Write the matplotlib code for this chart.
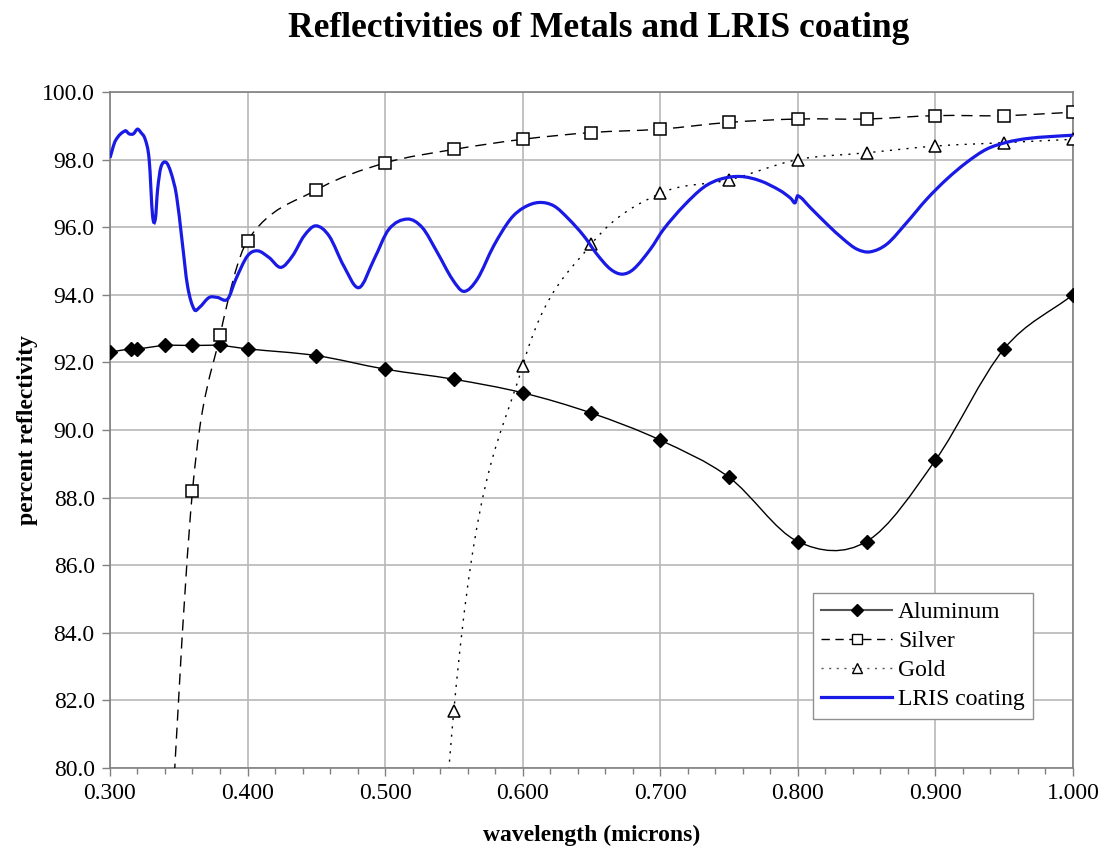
import numpy as np
import matplotlib
matplotlib.use("Agg")
import matplotlib.pyplot as plt
from matplotlib.path import Path
from matplotlib.patches import PathPatch
from matplotlib.lines import Line2D
from matplotlib.ticker import MultipleLocator, FormatStrFormatter

# ---------------- data ----------------
al_x = [0.30, 0.315, 0.32, 0.34, 0.36, 0.38, 0.40, 0.45, 0.50, 0.55, 0.60, 0.65,
        0.70, 0.75, 0.80, 0.85, 0.90, 0.95, 1.00]
al_y = [92.3, 92.4, 92.4, 92.5, 92.5, 92.5, 92.4, 92.2, 91.8, 91.5, 91.1, 90.5,
        89.7, 88.6, 86.7, 86.7, 89.1, 92.4, 94.0]

ag_x = [0.34, 0.36, 0.38, 0.40, 0.45, 0.50, 0.55, 0.60, 0.65, 0.70, 0.75, 0.80,
        0.85, 0.90, 0.95, 1.00]
ag_y = [75.0, 88.2, 92.8, 95.6, 97.1, 97.9, 98.3, 98.6, 98.8, 98.9, 99.1, 99.2,
        99.2, 99.3, 99.3, 99.4]

au_x = [0.50, 0.55, 0.60, 0.65, 0.70, 0.75, 0.80, 0.85, 0.90, 0.95, 1.00]
au_y = [47.7, 81.7, 91.9, 95.5, 97.0, 97.4, 98.0, 98.2, 98.4, 98.5, 98.6]

lris_x = [0.300, 0.304, 0.311, 0.314, 0.317, 0.320, 0.3225, 0.3256, 0.3285, 0.331,
          0.333, 0.3346, 0.337, 0.3407, 0.3443, 0.3484, 0.3523, 0.3564, 0.3612,
          0.3649, 0.3721, 0.3782, 0.3855, 0.3915, 0.400, 0.4073, 0.4157, 0.4242,
          0.4327, 0.4411, 0.4496, 0.4593, 0.470, 0.481, 0.492, 0.5028, 0.5162,
          0.527, 0.538, 0.5489, 0.5573, 0.567, 0.579, 0.5912, 0.6009, 0.6118,
          0.6227, 0.6335, 0.6445, 0.654, 0.6638, 0.6723, 0.6807, 0.6929, 0.7025,
          0.7171, 0.7316, 0.7437, 0.7582, 0.7728, 0.7873, 0.795, 0.798, 0.800,
          0.8091, 0.8212, 0.8333, 0.843, 0.8526, 0.8648, 0.8793, 0.8938, 0.9083,
          0.9229, 0.9374, 0.9519, 0.9664, 0.9834, 1.000]
lris_y = [98.05, 98.56, 98.85, 98.76, 98.76, 98.90, 98.80, 98.60, 98.00, 96.33,
          96.24, 97.10, 97.77, 97.92, 97.62, 96.93, 95.64, 94.26, 93.57,
          93.62, 93.92, 93.92, 93.87, 94.46, 95.15, 95.30, 95.10, 94.81,
          95.15, 95.74, 96.04, 95.74, 94.85, 94.21, 95.05, 95.94, 96.24,
          95.99, 95.25, 94.46, 94.10, 94.46, 95.45, 96.24, 96.58, 96.73,
          96.63, 96.24, 95.74, 95.20, 94.76, 94.61, 94.76, 95.35, 95.94,
          96.63, 97.18, 97.42, 97.50, 97.37, 97.08, 96.85, 96.72, 96.93,
          96.58, 96.09, 95.64, 95.35, 95.27, 95.50, 96.14, 96.83, 97.42,
          97.92, 98.31, 98.51, 98.62, 98.68, 98.72]

x_ticks = [0.3, 0.4, 0.5, 0.6, 0.7, 0.8, 0.9, 1.0]
y_ticks = [80, 82, 84, 86, 88, 90, 92, 94, 96, 98, 100]


def smooth_path(xs, ys):
    """Cubic Bezier path through the points (Excel-like smoothed line)."""
    xs = np.asarray(xs, float)
    ys = np.asarray(ys, float)
    n = len(xs)
    slopes = np.empty(n)
    for i in range(n):
        a = max(i - 1, 0)
        b = min(i + 1, n - 1)
        slopes[i] = (ys[b] - ys[a]) / (xs[b] - xs[a])
    verts = [(xs[0], ys[0])]
    codes = [Path.MOVETO]
    for i in range(n - 1):
        h = xs[i + 1] - xs[i]
        verts += [(xs[i] + h / 3, ys[i] + slopes[i] * h / 3),
                  (xs[i + 1] - h / 3, ys[i + 1] - slopes[i + 1] * h / 3),
                  (xs[i + 1], ys[i + 1])]
        codes += [Path.CURVE4] * 3
    return Path(verts, codes)


plt.rcParams['font.family'] = ['Liberation Serif', 'DejaVu Serif']

fig = plt.figure(figsize=(11.04, 8.5), dpi=100)
ax = fig.add_axes([0.0996, 0.0965, 0.8722, 0.7953])

grid_c = '#b8b8b8'
ax.set_axisbelow(True)
ax.grid(True, which='major', color=grid_c, linewidth=1.2)

# Aluminum
ax.add_patch(PathPatch(smooth_path(al_x, al_y), facecolor='none',
                       edgecolor='black', linewidth=1.0, zorder=3))
ax.plot(al_x, al_y, linestyle='none', marker='D', markersize=7,
        markerfacecolor='black', markeredgecolor='black', zorder=4)

# Silver
ax.add_patch(PathPatch(smooth_path(ag_x, ag_y), facecolor='none',
                       edgecolor='black', linewidth=1.0, linestyle=(0, (8, 5)),
                       zorder=3))
ax.plot(ag_x, ag_y, linestyle='none', marker='s', markersize=8,
        markerfacecolor='white', markeredgecolor='black', markeredgewidth=1.1,
        zorder=4)

# Gold
ax.add_patch(PathPatch(smooth_path(au_x, au_y), facecolor='none',
                       edgecolor='black', linewidth=1.0, linestyle=(0, (1.5, 4.5)),
                       zorder=3))
ax.plot(au_x, au_y, linestyle='none', marker='^', markersize=8,
        markerfacecolor='white', markeredgecolor='black', markeredgewidth=1.1,
        zorder=4)

# LRIS coating
ax.add_patch(PathPatch(smooth_path(lris_x, lris_y), facecolor='none',
                       edgecolor='#1a1ae6', linewidth=2.3, zorder=5))

ax.set_xlim(0.3, 1.0)
ax.set_ylim(80, 100)
ax.set_xticks(x_ticks)
ax.set_yticks(y_ticks)
ax.xaxis.set_minor_locator(MultipleLocator(0.02))
ax.xaxis.set_major_formatter(FormatStrFormatter('%.3f'))
ax.yaxis.set_major_formatter(FormatStrFormatter('%.1f'))
ax.tick_params(axis='both', which='major', direction='out', length=6,
               width=1, color='#808080', labelsize=17, pad=5)
ax.tick_params(axis='x', which='minor', direction='out', length=4,
               width=1, color='#808080')
for sp in ax.spines.values():
    sp.set_color('#808080')
    sp.set_linewidth(1.2)

ax.set_xlabel('wavelength (microns)', fontsize=17, fontweight='bold',
              labelpad=15)
ax.set_ylabel('percent reflectivity', fontsize=17, fontweight='bold',
              labelpad=3)
fig.text(0.5426, 0.966, 'Reflectivities of Metals and LRIS coating',
         fontsize=25.5, fontweight='bold', ha='center', va='center')

handles = [
    Line2D([], [], color='#555555', linewidth=1.5, marker='D', markersize=6,
           markerfacecolor='black', markeredgecolor='black'),
    Line2D([], [], color='black', linewidth=1.0, linestyle=(0, (6, 4)),
           marker='s', markersize=7, markerfacecolor='white',
           markeredgecolor='black'),
    Line2D([], [], color='#555555', linewidth=1.0, linestyle=(0, (1.5, 4)),
           marker='^', markersize=7, markerfacecolor='white',
           markeredgecolor='black'),
    Line2D([], [], color='#1a1ae6', linewidth=2.3),
]
labels = ['Aluminum', 'Silver', 'Gold', 'LRIS coating']
leg = ax.legend(handles, labels, loc='lower right',
                bbox_to_anchor=(0.9585, 0.073), fontsize=17, frameon=True,
                fancybox=False, edgecolor='#909090', framealpha=1,
                handlelength=3.0, handletextpad=0.25, labelspacing=0.32,
                borderpad=0.35, borderaxespad=0.0)
leg.get_frame().set_linewidth(1.0)

fig.savefig('out.png', dpi=100)
